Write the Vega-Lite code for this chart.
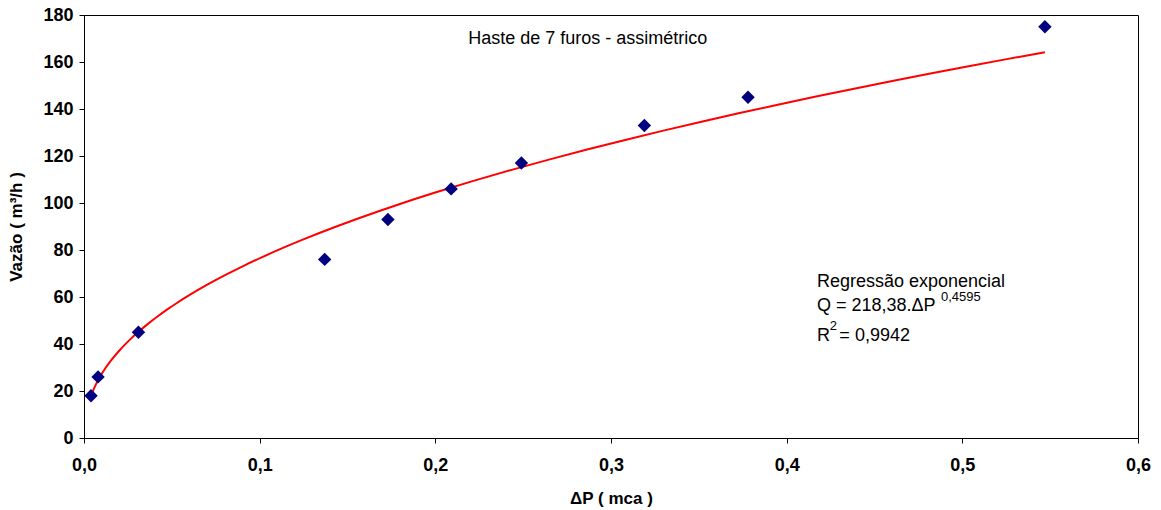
{
  "$schema": "https://vega.github.io/schema/vega-lite/v6.json",
  "width": 1054,
  "height": 423,
  "autosize": {"type": "none"},
  "padding": {"left": 84, "top": 15, "right": 23, "bottom": 72},
  "background": "white",
  "config": {
    "font": "Liberation Sans",
    "view": {"stroke": "black", "strokeWidth": 1},
    "axis": {"grid": false, "labelFlush": false, "domainColor": "black", "tickColor": "black", "tickSize": 5, "labelFont": "Liberation Sans", "titleFont": "Liberation Sans", "labelFontWeight": "bold", "titleFontWeight": "bold", "labelFontSize": 18, "titleFontSize": 17, "labelColor": "black", "titleColor": "black"}
  },
  "datasets": {
    "pts": [
      {"dP": 0.004, "Q": 18},
      {"dP": 0.008, "Q": 26},
      {"dP": 0.031, "Q": 45},
      {"dP": 0.137, "Q": 76},
      {"dP": 0.173, "Q": 93},
      {"dP": 0.209, "Q": 106},
      {"dP": 0.249, "Q": 117},
      {"dP": 0.319, "Q": 133},
      {"dP": 0.378, "Q": 145},
      {"dP": 0.547, "Q": 175}
    ],
    "title": [
      {"x": 0.2868, "y": 169.6, "t": "Haste de 7 furos - assimétrico"}
    ],
    "labels": [
      {"x": 0.4172, "y": 66.4, "t": "Regressão exponencial", "s": 18},
      {"x": 0.4172, "y": 56.0, "t": "Q = 218,38.ΔP", "s": 18},
      {"x": 0.4878, "y": 60.2, "t": "0,4595", "s": 13},
      {"x": 0.4172, "y": 43.6, "t": "R", "s": 18},
      {"x": 0.4245, "y": 47.6, "t": "2", "s": 13},
      {"x": 0.4300, "y": 43.6, "t": " = 0,9942", "s": 18}
    ]
  },
  "layer": [
    {
      "data": {"name": "pts"},
      "transform": [{"regression": "Q", "on": "dP", "method": "pow", "extent": [0.004, 0.547]}],
      "mark": {"type": "line", "color": "#ff0000", "strokeWidth": 2, "interpolate": "monotone"},
      "encoding": {
        "x": {"field": "dP", "type": "quantitative", "scale": {"domain": [0, 0.6], "nice": false}, "axis": {"title": "ΔP ( mca )", "values": [0, 0.1, 0.2, 0.3, 0.4, 0.5, 0.6], "labelExpr": "replace(format(datum.value, '.1f'), '.', ',')", "labelPadding": 13, "titlePadding": 16, "labelFontWeight": "bold"}},
        "y": {"field": "Q", "type": "quantitative", "scale": {"domain": [0, 180], "nice": false}, "axis": {"title": "Vazão ( m³/h )", "values": [0, 20, 40, 60, 80, 100, 120, 140, 160, 180], "labelPadding": 6, "titlePadding": 17, "labelFontWeight": "bold"}}
      }
    },
    {
      "data": {"name": "pts"},
      "mark": {"type": "point", "shape": "diamond", "filled": true, "color": "#000080", "size": 180, "opacity": 1},
      "encoding": {
        "x": {"field": "dP", "type": "quantitative"},
        "y": {"field": "Q", "type": "quantitative"}
      }
    },
    {
      "data": {"name": "title"},
      "mark": {"type": "text", "baseline": "middle", "align": "center", "color": "black", "font": "Liberation Sans", "fontSize": 18},
      "encoding": {
        "x": {"field": "x", "type": "quantitative"},
        "y": {"field": "y", "type": "quantitative"},
        "text": {"field": "t"}
      }
    },
    {
      "data": {"name": "labels"},
      "mark": {"type": "text", "baseline": "middle", "align": "left", "color": "black", "font": "Liberation Sans"},
      "encoding": {
        "x": {"field": "x", "type": "quantitative"},
        "y": {"field": "y", "type": "quantitative"},
        "text": {"field": "t"},
        "size": {"field": "s", "type": "quantitative", "scale": null}
      }
    }
  ]
}
